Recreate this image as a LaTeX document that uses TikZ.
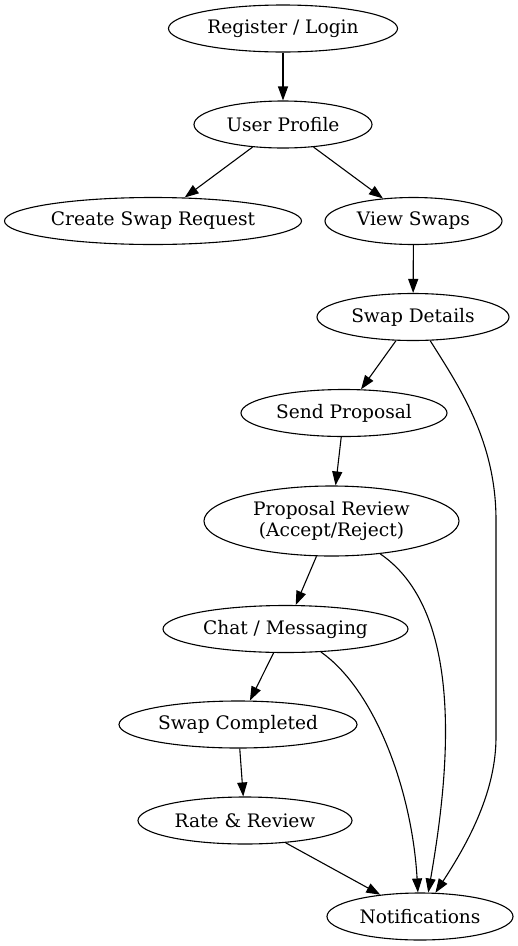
\documentclass[tikz,border=0pt]{standalone}
\usepackage{fontspec}
\setmainfont{DejaVu Serif}
\usetikzlibrary{shapes.geometric, arrows.meta}
\begin{document}
\begin{tikzpicture}[x=1pt, y=-1pt,
  state/.style={draw, shape=ellipse, line width=1.1pt, inner sep=0pt, minimum height=47pt,
    align=center, font=\fontsize{18.6}{20.5}\selectfont},
  flow/.style={line width=1.1pt, -{Triangle[length=14pt, width=10pt]}}]
\useasboundingbox (0,0) rectangle (518,946);
% states
\node[state, minimum width=229pt] (login) at (283,28.5) {Register / Login};
\node[state, minimum width=178pt] (profile) at (283,124.5) {User Profile};
\node[state, minimum width=297pt] (create) at (153,221) {Create Swap Request};
\node[state, minimum width=177pt] (view) at (413.5,221) {View Swaps};
\node[state, minimum width=192pt] (details) at (413,317) {Swap Details};
\node[state, minimum width=206pt] (send) at (344,413) {Send Proposal};
\node[state, minimum width=255pt, minimum height=70pt] (review) at (331.5,521) {Proposal Review\\(Accept/Reject)};
\node[state, minimum width=245pt] (chat) at (285.5,629) {Chat / Messaging};
\node[state, minimum width=238pt] (completed) at (238,724.5) {Swap Completed};
\node[state, minimum width=214pt] (rate) at (245,820.5) {Rate \& Review};
\node[state, minimum width=186pt] (notif) at (420,916.5) {Notifications};
% main flow
\draw[flow] (login) -- (profile);
\draw[flow] (profile) -- (create);
\draw[flow] (profile) -- (view);
\draw[flow] (view) -- (details);
\draw[flow] (details) -- (send);
\draw[flow] (send) -- (review);
\draw[flow] (review) -- (chat);
\draw[flow] (chat) -- (completed);
\draw[flow] (completed) -- (rate);
\draw[flow] (rate) -- (notif);
% notifications
\draw[flow] (details.-54) .. controls (458,385) and (496,440) .. (496,520)
  -- (496,737) .. controls (496,790) and (470,840) .. (notif.57);
\draw[flow] (review.-34) .. controls (470,615) and (446,790) .. (notif.71);
\draw[flow] (chat.-33) .. controls (375,690) and (412,790) .. (notif.95);
\end{tikzpicture}
\end{document}
